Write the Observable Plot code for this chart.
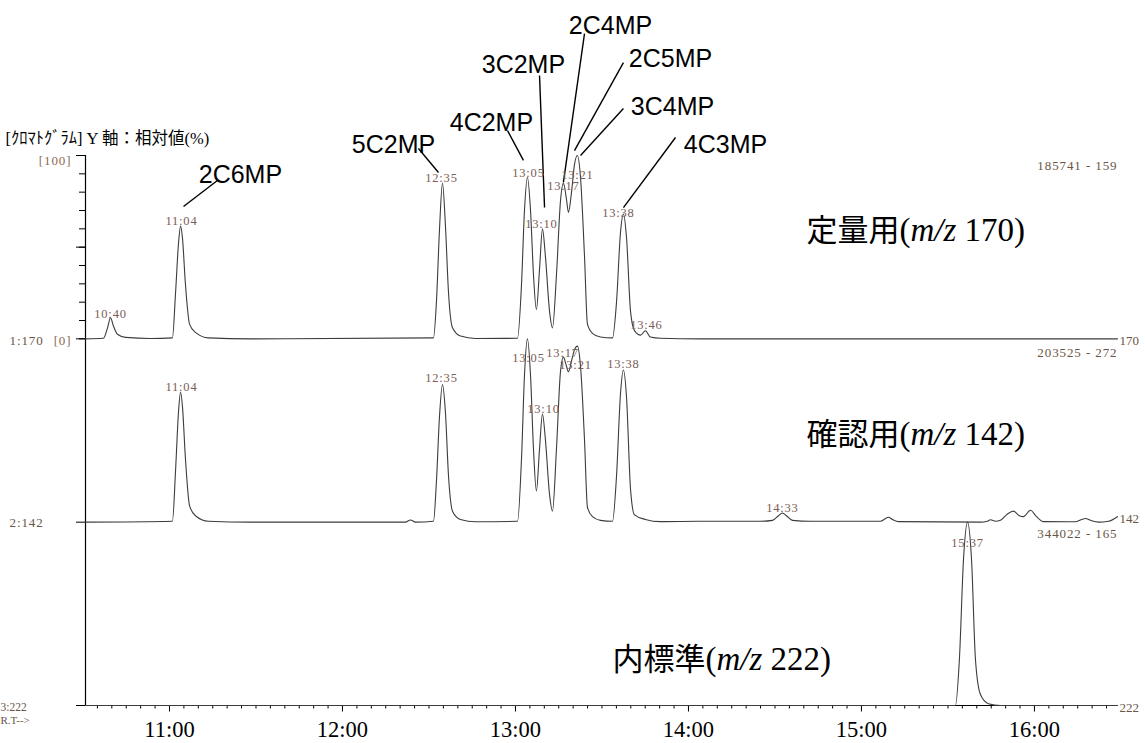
<!DOCTYPE html>
<html><head><meta charset="utf-8">
<script src="https://cdn.jsdelivr.net/npm/d3@7"></script>
<script src="https://cdn.jsdelivr.net/npm/@observablehq/plot@0.6"></script>
<style>
body{margin:0;background:#fff;}
.rt text{letter-spacing:0.8px;}
.side text{letter-spacing:0.9px;}
</style>
</head><body><div id="chart"></div>
<script>
// ---- data (retention time in minutes, relative intensity %) ----
const trace170 = [
 [10.5145,0],[10.618,0.3],[10.642,6],[10.659,11.5],[10.676,7],[10.699,2.5],[10.746,0.8],[10.890,0.2],
 [11.017,0.5],[11.035,25],[11.052,52],[11.064,61.5],[11.075,55],[11.092,30],[11.116,8],[11.150,3.5],[11.225,0.5],[11.468,0],
 [12.526,0.5],[12.543,20],[12.561,60],[12.578,85],[12.595,62],[12.613,25],[12.636,6],[12.682,1.5],[12.769,0.2],
 [13.012,0.3],[13.035,30],[13.052,70],[13.069,88],[13.087,70],[13.104,35],[13.121,16],[13.139,38],[13.156,60],
 [13.173,45],[13.197,15],[13.214,6],[13.237,35],[13.260,75],[13.277,85],[13.295,76],[13.306,69],[13.324,80],
 [13.341,95],[13.358,100],[13.376,88],[13.399,45],[13.416,8],[13.445,3],[13.491,1],[13.561,0.5],[13.584,20],
 [13.607,58],[13.624,68],[13.642,55],[13.665,15],[13.688,4.5],[13.723,2],[13.751,4.4],[13.780,1],[13.838,0.3],
 [14.069,0],[16.48,0]
];
const trace142 = [
 [10.5145,0],[11.017,0.5],[11.035,28],[11.052,60],[11.064,71],[11.075,63],[11.092,35],[11.116,9],[11.150,3.5],
 [11.225,0.5],[11.468,0],[12.364,0],[12.393,1.2],[12.422,0],
 [12.526,0.5],[12.543,22],[12.561,58],[12.578,75],[12.595,60],[12.613,25],[12.636,6],[12.682,1.5],[12.769,0.2],
 [13.012,0.5],[13.035,35],[13.052,80],[13.069,100],[13.087,80],[13.104,40],[13.121,17],[13.139,40],[13.156,59],
 [13.173,45],[13.197,15],[13.214,6],[13.237,40],[13.260,82],[13.277,90],[13.295,85],[13.306,82],[13.324,88],
 [13.341,94],[13.358,96],[13.376,85],[13.399,45],[13.416,8],[13.445,3],[13.491,1],[13.561,0.5],[13.584,25],
 [13.607,70],[13.624,83],[13.642,68],[13.665,18],[13.688,4],[13.751,1.5],[13.838,0.3],[14.069,0.5],
 [14.416,0.5],[14.486,1],[14.520,3.5],[14.543,5],[14.566,3.5],[14.601,1],[14.705,0.5],
 [15.110,0.5],[15.139,2],[15.156,2.7],[15.179,1.5],[15.214,0.3],[15.688,0],[15.728,0.5],[15.746,1.3],
 [15.775,0.5],[15.803,1],[15.844,4.5],[15.879,6],[15.913,3.5],[15.936,3],[15.977,6.5],[16.012,3],[16.052,0.3],
 [16.237,0.2],[16.272,1.5],[16.295,2],[16.324,1],[16.370,0],[16.428,0.5],[16.48,3]
];
const trace222 = [
 [10.5145,0],[15.543,0],[15.566,25],[15.590,80],[15.613,100],[15.636,80],[15.659,25],[15.688,6],[15.734,1],[15.803,0],[16.48,0]
];
const seriesNames = ["170", "142", "222"];
const seriesOffsets = [200, 100, 0];

const rtLabels = [
 {label:"10:40", t:10.659, v:213.3}, {label:"11:04", t:11.069, v:264.5}, {label:"12:35", t:12.572, v:287.5},
 {label:"13:05", t:13.075, v:290.2}, {label:"13:10", t:13.150, v:262.9}, {label:"13:17", t:13.277, v:283.1},
 {label:"13:21", t:13.358, v:289.6}, {label:"13:38", t:13.595, v:268.9}, {label:"13:46", t:13.757, v:207.8},
 {label:"11:04", t:11.069, v:173.5}, {label:"12:35", t:12.572, v:178.4}, {label:"13:05", t:13.075, v:189.3},
 {label:"13:10", t:13.162, v:162.0}, {label:"13:17", t:13.272, v:192.5}, {label:"13:21", t:13.347, v:185.5},
 {label:"13:38", t:13.624, v:186.5}, {label:"14:33", t:14.543, v:108.0}, {label:"15:37", t:15.613, v:88.9}
];
const compoundLabels = [
 {name:"2C6MP", t:11.410, v:289.6}, {name:"5C2MP", t:12.295, v:306.0}, {name:"4C2MP", t:12.861, v:317.5},
 {name:"3C2MP", t:13.046, v:349.1}, {name:"2C4MP", t:13.549, v:370.9}, {name:"2C5MP", t:13.896, v:352.4},
 {name:"3C4MP", t:13.908, v:326.2}, {name:"4C3MP", t:14.214, v:306.0}
];
const leaders = [
 {t1:11.277,v1:286.4,t2:11.081,v2:272.2}, {t1:12.439,v1:303.8,t2:12.555,v2:290.7},
 {t1:12.954,v1:313.6,t2:13.046,v2:297.3}, {t1:13.139,v1:343.6,t2:13.168,v2:271.6},
 {t1:13.399,v1:366.5,t2:13.277,v2:285.3}, {t1:13.624,v1:350.7,t2:13.341,v2:302.7},
 {t1:13.624,v1:325.6,t2:13.376,v2:300.0}, {t1:13.925,v1:309.8,t2:13.624,v2:271.6}
];
const bigLabels = [
 {name:"定量用", mz:"170", t:14.682, v:259.0},
 {name:"確認用", mz:"142", t:14.682, v:147.6},
 {name:"内標準", mz:"222", t:13.561, v:25.0}
];
const rightSums = [{label:"185741 - 159", v:294.5}, {label:"203525 - 272", v:192.5}, {label:"344022 - 165", v:93.8}];
const rightIons = [{label:"170", v:199.1}, {label:"142", v:102}, {label:"222", v:-1.3}];
const leftIons = [{label:"1:170", v:199.1}, {label:"2:142", v:99.8}];
const leftScale = [{label:"[100]", v:297.3}, {label:"[0]", v:199.1}];
const xTicks = [11, 12, 13, 14, 15, 16];
const xTickLabels = ["11:00", "12:00", "13:00", "14:00", "15:00", "16:00"];
const titleText = "[ｸﾛﾏﾄｸﾞﾗﾑ] Y 軸：相対値(%)";

// ---- build ----
const xDomain = [10.5145, 16.48];
const rows = [];
[trace170, trace142, trace222].forEach((pts, k) => {
  for (const [t, p] of pts) rows.push({series: seriesNames[k], t, v: p + seriesOffsets[k]});
});
const minorTicks = d3.range(Math.ceil(xDomain[0] * 12), Math.floor(xDomain[1] * 12) + 1).map(k => k / 12);
const serif = "Liberation Serif, Times New Roman, serif";
const labelColor = "#7a5c56";

const chart = Plot.plot({
  width: 1145, height: 743,
  marginLeft: 85, marginRight: 28, marginTop: 155, marginBottom: 38,
  x: {domain: xDomain, axis: null},
  y: {domain: [0, 300], axis: null},
  style: {background: "#fff", overflow: "visible", fontFamily: serif, fontSize: "12px", color: "#000"},
  marks: [
    Plot.axisX({ticks: minorTicks, tickSize: 3.5, tickFormat: () => "", stroke: "#000"}),
    Plot.axisX({ticks: xTicks, tickSize: 6.5, tickPadding: 9, tickFormat: d => xTickLabels[xTicks.indexOf(d)],
      fontSize: 22.5, fontFamily: serif, fill: "#000", stroke: "#000", className: "xaxis"}),
    Plot.axisY({ticks: d3.range(200, 301, 10), tickSize: 6, tickFormat: () => "", stroke: "#000"}),
    Plot.axisY({ticks: [0, 100, 200, 250, 300], tickSize: 9, tickFormat: () => "", stroke: "#000"}),
    Plot.ruleX([xDomain[0]], {y1: 0, y2: 300, stroke: "#000", strokeWidth: 1.2}),
    Plot.ruleY([0], {stroke: "#000", strokeWidth: 1.2}),
    Plot.line(rows, {x: "t", y: "v", z: "series", curve: "monotone-x", stroke: "#3c3c3c", strokeWidth: 1.1}),
    Plot.link(leaders, {x1: "t1", y1: "v1", x2: "t2", y2: "v2", stroke: "#000", strokeWidth: 1.4}),
    Plot.text(rtLabels, {x: "t", y: "v", text: "label", fontSize: 12.5, fontFamily: serif, fill: labelColor, className: "rt"}),
    Plot.text(compoundLabels, {x: "t", y: "v", text: "name", fontSize: 25, fontFamily: "Liberation Sans, Arial, sans-serif", fill: "#000"}),
    Plot.text(bigLabels, {x: "t", y: "v", text: d => d.name + "(m/z " + d.mz + ")", textAnchor: "start", fontSize: 31, fill: "#000", className: "big"}),
    Plot.text(rightSums, {y: "v", text: "label", frameAnchor: "right", textAnchor: "end", fontSize: 13, fontFamily: serif, fill: "#6a5545", className: "side"}),
    Plot.text(rightIons, {y: "v", text: "label", frameAnchor: "right", textAnchor: "start", dx: 2, fontSize: 13, fontFamily: serif, fill: "#6a5545"}),
    Plot.text(leftIons, {y: "v", text: "label", frameAnchor: "left", textAnchor: "start", dx: -76, fontSize: 13, fontFamily: serif, fill: "#6a5545", className: "side"}),
    Plot.text(leftScale, {y: "v", text: "label", frameAnchor: "left", textAnchor: "end", dx: -14, fontSize: 13, fontFamily: serif, fill: "#8a6a55", className: "side"}),
    Plot.text(["3:222"], {frameAnchor: "bottom-left", lineAnchor: "middle", dx: -85, dy: 2, textAnchor: "start", fontSize: 11.5, fontFamily: serif, fill: "#6a5545"}),
    Plot.text(["R.T-->"], {frameAnchor: "bottom-left", lineAnchor: "middle", dx: -85, dy: 15, textAnchor: "start", fontSize: 11, fontFamily: serif, fill: "#6a5545"}),
    Plot.text([titleText], {frameAnchor: "top-left", lineAnchor: "middle", dx: -80, dy: -17, textAnchor: "start", fontSize: 16.5, fontFamily: "Liberation Serif, Noto Sans CJK JP, serif", fill: "#000"})
  ]
});

// rich formatting for the m/z labels
d3.select(chart).selectAll("g.big text").each(function() {
  const s = this.textContent;
  const m = s.match(/^(.*)\(m\/z (\d+)\)$/);
  if (!m) return;
  const el = d3.select(this);
  el.text("");
  el.append("tspan").attr("font-family", "Noto Sans CJK JP, sans-serif").text(m[1]);
  el.append("tspan").attr("font-family", serif).attr("font-size", 33).text("(");
  el.append("tspan").attr("font-family", serif).attr("font-size", 33).attr("font-style", "italic").text("m/z");
  el.append("tspan").attr("font-family", serif).attr("font-size", 33).text(" " + m[2] + ")");
});

document.getElementById("chart").append(chart);
</script>
</body></html>
